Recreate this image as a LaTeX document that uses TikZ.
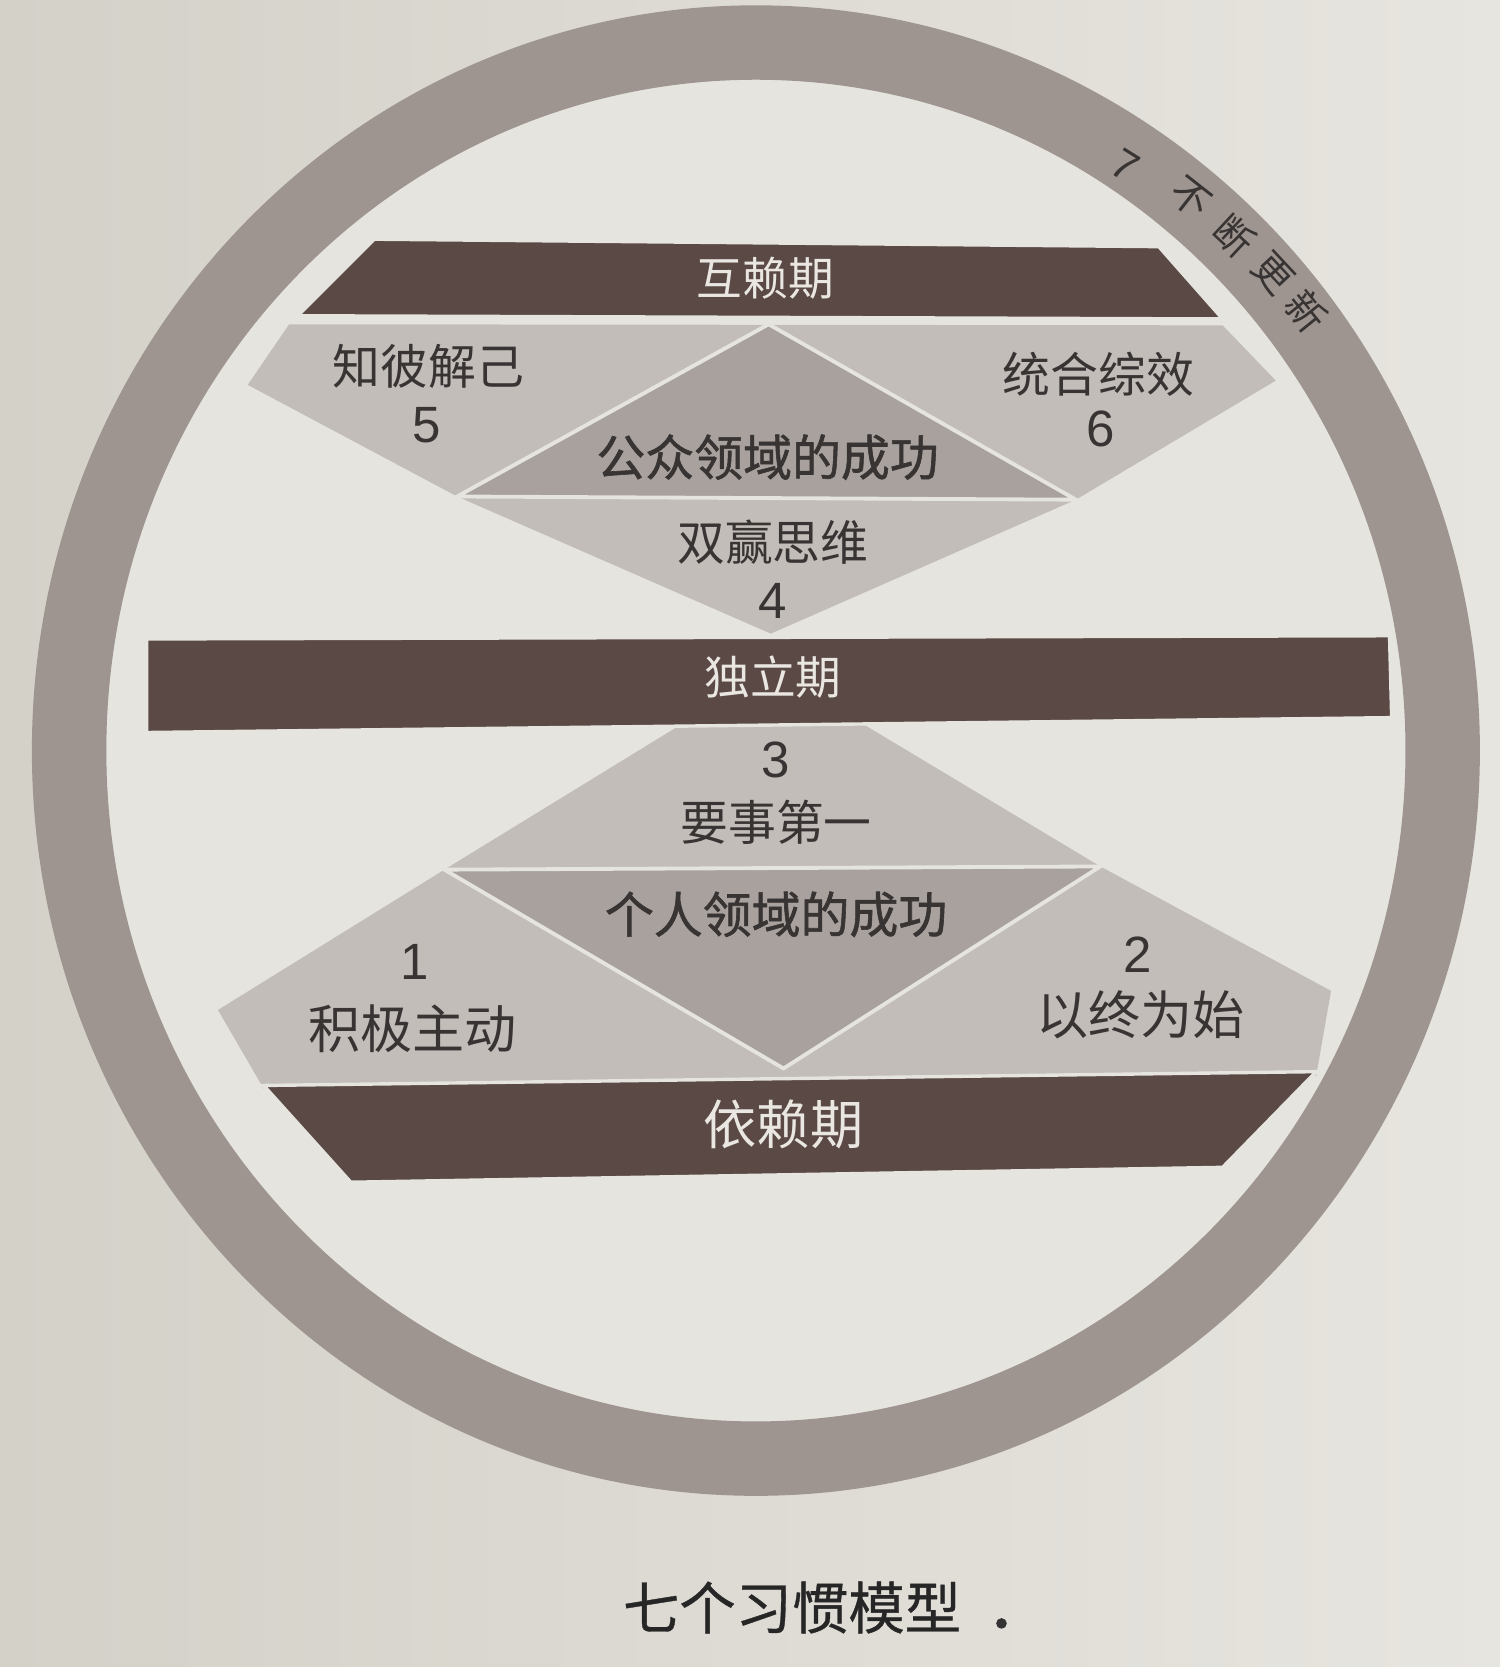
\documentclass[tikz,border=0pt]{standalone}
\usepackage{fontspec}
\newfontfamily\cjk{Noto Sans CJK SC}
\newfontfamily\cjkm[FakeBold=1.2]{Noto Sans CJK SC}
\newfontfamily\cjks[FakeBold=0.6]{Noto Sans CJK SC}
\newfontfamily\lat{Liberation Sans}
\definecolor{paperL}{HTML}{D4D1C9}
\definecolor{paperR}{HTML}{E7E5DF}
\definecolor{innerc}{HTML}{E6E4DE}
\definecolor{ringc}{HTML}{9E9590}
\definecolor{barc}{HTML}{5A4944}
\definecolor{lightc}{HTML}{C2BDB8}
\definecolor{midc}{HTML}{A8A19D}
\definecolor{inkc}{HTML}{383434}
\definecolor{bartxt}{HTML}{EAE6E2}
\definecolor{gapc}{HTML}{E6E4DE}
\begin{document}
\begin{tikzpicture}[x=0.5pt,y=-0.5pt,
  every node/.style={inner sep=0pt},
  barshape/.style={fill=barc, draw=gapc, line width=1.6pt, line join=miter},
  sep/.style={draw=gapc, line width=1.8pt, line join=miter},
  bartext/.style={text=bartxt, font=\cjk\fontsize{21.5}{24}\selectfont},
  lab/.style={text=inkc, font=\cjk\fontsize{22.5}{25}\selectfont},
  labbig/.style={text=inkc, font=\cjk\fontsize{24.5}{27}\selectfont},
  labb/.style={text=inkc, font=\cjkm\fontsize{23}{26}\selectfont},
  num/.style={text=inkc, font=\lat\fontsize{24}{26}\selectfont},
  ringtext/.style={text=inkc, font=\cjk\fontsize{18.5}{20}\selectfont}]
\useasboundingbox (0,0) rectangle (1411,1568);
\shade[left color=paperL, right color=paperR] (0,0) rectangle (1411,1568);
% circle interior and ring
\fill[innerc] (711,706) ellipse [x radius=305.5pt, y radius=315.5pt];
\fill[ringc, even odd rule] (711,706) ellipse [x radius=340.5pt, y radius=350.5pt]
   (711,706) ellipse [x radius=305.5pt, y radius=315.5pt];
% ---- upper part: public victory ----
\fill[lightc] (272,305) -- (1150,306) -- (1200,358) -- (1012,470) -- (725,596)
   -- (430,467) -- (233,362) -- cycle;
\fill[midc] (723,305) -- (1012,470) -- (430,467) -- cycle;
\draw[sep] (723,305) -- (1012,470) -- (430,467) -- cycle;
% ---- lower part: private victory ----
\fill[lightc] (643,680) -- (810,680) -- (1035,815) -- (1252,932) -- (1238,1012)
   -- (248,1024) -- (205,950) -- (418,818) -- cycle;
\fill[midc] (418,818) -- (1035,815) -- (737,1005) -- cycle;
\draw[sep] (418,818) -- (1035,815) -- (737,1005) -- cycle;
% ---- bars ----
\filldraw[barshape] (352,225) -- (1090,232) -- (1150,300) -- (280,297) -- cycle;
\filldraw[barshape] (138,601) -- (1307,598) -- (1309,675) -- (138,689) -- cycle;
\filldraw[barshape] (248,1021) -- (1238,1008) -- (1150,1098) -- (330,1112) -- cycle;
% ---- bar labels ----
\node[bartext] (hulai) at (720,262) {互赖期};
\node[bartext] (duli) at (727,637) {独立期};
\node[bartext, font=\cjk\fontsize{25}{27}\selectfont] (yilai) at (737,1058) {依赖期};
% ---- habit labels ----
\node[lab] (h5) at (403,345) {知彼解己};
\node[num] (n5) at (401,400) {5};
\node[lab] (h6) at (1033,352) {统合综效};
\node[num] (n6) at (1035,403) {6};
\node[labb] (pub) at (722,430) {公众领域的成功};
\node[lab] (h4) at (727,510) {双赢思维};
\node[num] (n4) at (727,565) {4};
\node[num] (n3) at (730,715) {3};
\node[lab] (h3) at (730,773) {要事第一};
\node[labb] (priv) at (730,860) {个人领域的成功};
\node[num] (n1) at (390,905) {1};
\node[labbig] (h1) at (388,968) {积极主动};
\node[num] (n2) at (1070,898) {2};
\node[labbig] (h2) at (1073,955) {以终为始};
% ---- ring label ----
\node[ringtext, font=\lat\fontsize{20}{22}\selectfont, rotate=-32] (r7) at (1058,156) {7};
\node[ringtext, rotate=-38] (r1) at (1120,186) {不};
\node[ringtext, rotate=-43] (r2) at (1161,222) {断};
\node[ringtext, rotate=-47] (r3) at (1197,257) {更};
\node[ringtext, rotate=-51] (r4) at (1229,293) {新};
% ---- caption ----
\node[text=black!85, font=\cjks\fontsize{26.5}{29}\selectfont] (cap) at (745,1512) {七个习惯模型};
\fill[black!80] (942,1527) circle (2.5pt);
\end{tikzpicture}
\end{document}
